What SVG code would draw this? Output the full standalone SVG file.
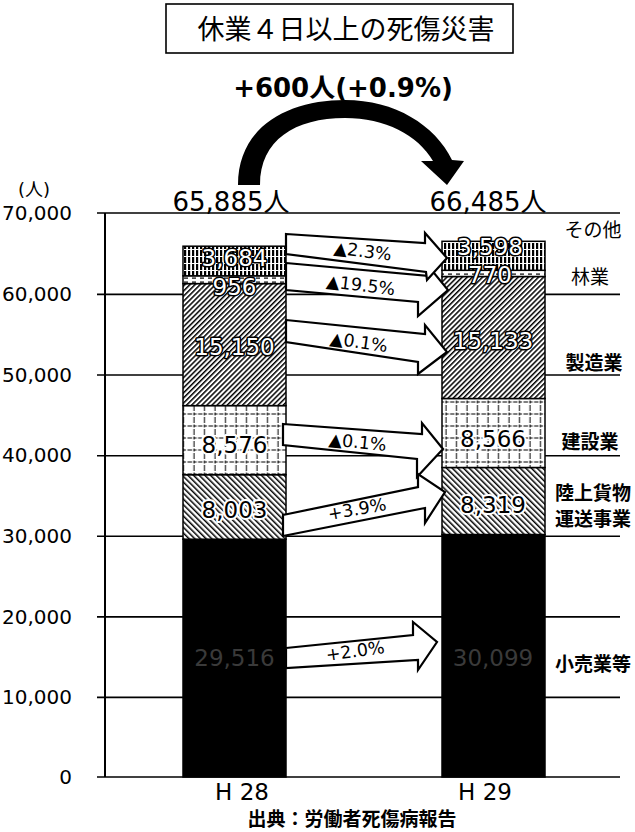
<svg xmlns="http://www.w3.org/2000/svg" width="635" height="832" viewBox="0 0 635 832">
<style>
text{font-family:"DejaVu Sans","Noto Sans CJK JP",sans-serif;fill:#000}
.jp{font-family:"Noto Sans CJK JP","DejaVu Sans",sans-serif}
.ax{font-size:20px;text-anchor:end}
.grid{stroke:#000;stroke-width:1.6}
.seg{stroke:#000;stroke-width:1.5}
.vd{font-size:23px;text-anchor:middle;fill:#fff;stroke:#000;stroke-width:3;paint-order:stroke;stroke-linejoin:round}
.vl{font-size:23px;text-anchor:middle;fill:#000;stroke:#fff;stroke-width:4;paint-order:stroke;stroke-linejoin:round}
.vk{font-size:23px;text-anchor:middle;fill:#3a3a3a}
.arr{fill:#fff;stroke:#000;stroke-width:2.2;stroke-linejoin:miter}
.pct{font-size:17.5px;text-anchor:middle}
.cat{font-size:19px}
.catb{font-size:19px;font-weight:bold}
</style>
<defs>
<pattern id="pOther" width="4" height="7" patternUnits="userSpaceOnUse">
<rect width="4" height="7" fill="#fff"/>
<rect x="0" y="0" width="2.2" height="7" fill="#000"/>
<rect x="0" y="4" width="4" height="1" fill="#fff"/>
</pattern>
<pattern id="pForest" width="8" height="4" patternUnits="userSpaceOnUse">
<rect width="8" height="4" fill="#fff"/>
<rect x="0" y="1.5" width="4" height="1.2" fill="#000"/>
</pattern>
<pattern id="pMfg" width="3.6" height="3.6" patternUnits="userSpaceOnUse" patternTransform="rotate(45)">
<rect width="3.6" height="3.6" fill="#fff"/>
<rect x="0" y="0" width="1.5" height="3.6" fill="#000"/>
</pattern>
<pattern id="pConst" width="10.5" height="12" patternUnits="userSpaceOnUse">
<rect width="10.5" height="12" fill="#fff"/>
<line x1="0" y1="6" x2="10.5" y2="6" stroke="#000" stroke-width="1" stroke-dasharray="3,1.5"/>
<line x1="5" y1="0" x2="5" y2="12" stroke="#000" stroke-width="1" stroke-dasharray="3,1.5"/>
</pattern>
<pattern id="pTrans" width="4" height="4" patternUnits="userSpaceOnUse" patternTransform="rotate(-45)">
<rect width="4" height="4" fill="#fff"/>
<rect x="0" y="0" width="1.5" height="4" fill="#000"/>
</pattern>
</defs>
<rect width="635" height="832" fill="#fff"/>

<g id="title">
<rect x="166" y="4" width="347" height="49" fill="#fff" stroke="#000" stroke-width="1.6"/>
<text class="jp" x="346" y="39" font-size="27" text-anchor="middle">休業４日以上の死傷災害</text>
</g>

<g id="total-change">
<text x="343" y="97" font-size="26" font-weight="bold" text-anchor="middle">+600人(+0.9%)</text>
<path d="M238,185 C238,125 290,100 345,100 C395,100 435,125 452,160 L464,161 L447,185 L421,161 L433,161 C418,135 385,118 345,118 C295,118 260,140 260,185 Z" fill="#000"/>
</g>

<g id="axis">
<text x="18" y="196" font-size="18">(人)</text>
<g class="grid">
<line x1="97" y1="213" x2="620" y2="213"/>
<line x1="97" y1="294.4" x2="620" y2="294.4"/>
<line x1="97" y1="375" x2="620" y2="375"/>
<line x1="97" y1="455.7" x2="620" y2="455.7"/>
<line x1="97" y1="536.3" x2="620" y2="536.3"/>
<line x1="97" y1="616.9" x2="620" y2="616.9"/>
<line x1="97" y1="697.4" x2="620" y2="697.4"/>
<line x1="97" y1="777" x2="620" y2="777"/>
<line x1="105" y1="213" x2="105" y2="777" stroke-width="2"/>
</g>
<text class="ax" x="72" y="220">70,000</text>
<text class="ax" x="72" y="301">60,000</text>
<text class="ax" x="72" y="382">50,000</text>
<text class="ax" x="72" y="462">40,000</text>
<text class="ax" x="72" y="543">30,000</text>
<text class="ax" x="72" y="624">20,000</text>
<text class="ax" x="72" y="704">10,000</text>
<text class="ax" x="72" y="784">0</text>
</g>

<g id="bar-h28">
<rect class="seg" x="183" y="539.2" width="103" height="237.8" fill="#000"/>
<rect class="seg" x="183" y="474.7" width="103" height="64.5" fill="url(#pTrans)"/>
<rect class="seg" x="183" y="405.6" width="103" height="69.1" fill="url(#pConst)"/>
<rect class="seg" x="183" y="283.6" width="103" height="122" fill="url(#pMfg)"/>
<rect class="seg" x="183" y="275.8" width="103" height="7.8" fill="url(#pForest)"/>
<rect class="seg" x="183" y="246.2" width="103" height="29.6" fill="url(#pOther)"/>
<text class="vd" x="234.5" y="266">3,684</text>
<text class="vd" x="234.5" y="295">956</text>
<text class="vd" x="234.5" y="355">15,150</text>
<text class="vl" x="234.5" y="453">8,576</text>
<text class="vl" x="234.5" y="518">8,003</text>
<text class="vk" x="234.5" y="666">29,516</text>
<text x="242" y="800" font-size="23" text-anchor="middle">H 28</text>
<text x="231" y="211" font-size="26" text-anchor="middle">65,885人</text>
</g>

<g id="bar-h29">
<rect class="seg" x="442" y="534.5" width="103" height="242.5" fill="#000"/>
<rect class="seg" x="442" y="467.5" width="103" height="67" fill="url(#pTrans)"/>
<rect class="seg" x="442" y="398.5" width="103" height="69" fill="url(#pConst)"/>
<rect class="seg" x="442" y="276.5" width="103" height="122" fill="url(#pMfg)"/>
<rect class="seg" x="442" y="270.3" width="103" height="6.2" fill="url(#pForest)"/>
<rect class="seg" x="442" y="241.3" width="103" height="29" fill="url(#pOther)"/>
<text class="vd" x="490" y="255">3,598</text>
<text class="vd" x="490" y="283">770</text>
<text class="vd" x="493" y="349">15,133</text>
<text class="vl" x="493" y="447">8,566</text>
<text class="vl" x="493" y="513">8,319</text>
<text class="vk" x="493" y="666">30,099</text>
<text x="485" y="800" font-size="23" text-anchor="middle">H 29</text>
<text x="488" y="211" font-size="26" text-anchor="middle">66,485人</text>
</g>

<g id="connectors">
<polygon class="arr" points="286,263 430,276 430,268 448,290 418,316 418,302 286,290"/>
<polygon class="arr" points="286,234 425,243 425,233 447,258 427,280 426,272 286,254"/>
<polygon class="arr" points="286,320 425,334 425,325 447,352 418,374 418,362 286,342"/>
<polygon class="arr" points="283,424 422,434 422,423 443,449 417,477 417,459 283,445"/>
<polygon class="arr" points="283,515 418,487 418,474 445,492 425,523 425,508 283,536"/>
<polygon class="arr" points="286,648 413,635 413,622 437,642 418,670 418,660 286,668"/>
<text class="pct" transform="translate(362,257) rotate(7)">▲2.3%</text>
<text class="pct" transform="translate(360,291) rotate(7)">▲19.5%</text>
<text class="pct" transform="translate(358,348) rotate(8)">▲0.1%</text>
<text class="pct" transform="translate(357,448) rotate(6)">▲0.1%</text>
<text class="pct" transform="translate(358,515) rotate(-10)">+3.9%</text>
<text class="pct" transform="translate(356,657) rotate(-8)">+2.0%</text>
</g>

<g id="categories">
<text class="jp cat" x="593" y="237" text-anchor="middle">その他</text>
<text class="jp cat" x="590" y="284" text-anchor="middle">林業</text>
<text class="jp catb" x="594" y="370" text-anchor="middle">製造業</text>
<text class="jp catb" x="590" y="449" text-anchor="middle">建設業</text>
<text class="jp catb" x="593" y="500" text-anchor="middle" font-size="18">陸上貨物</text>
<text class="jp catb" x="593" y="526" text-anchor="middle" font-size="18">運送事業</text>
<text class="jp catb" x="593" y="671" text-anchor="middle">小売業等</text>
</g>

<g id="source">
<text class="jp" x="352" y="826" font-size="19" font-weight="bold" text-anchor="middle">出典：労働者死傷病報告</text>
</g>
</svg>
